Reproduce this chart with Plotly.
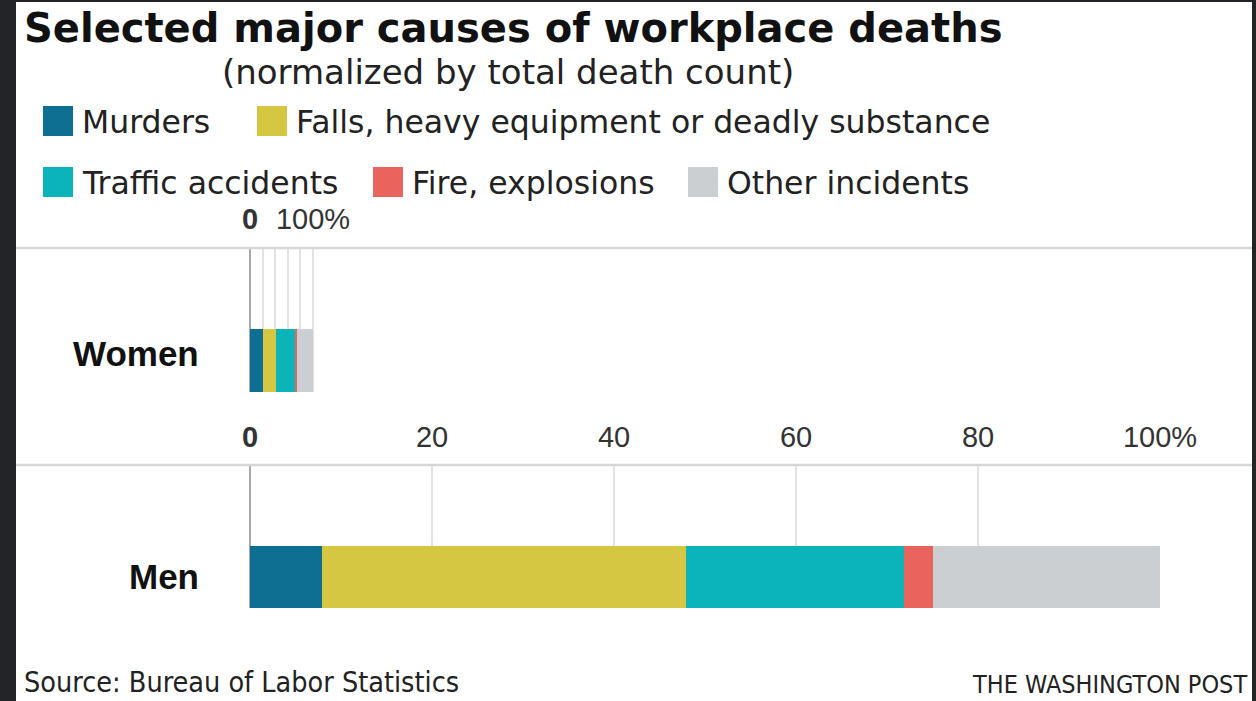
import plotly.graph_objects as go

W, H = 1256, 701

# ---- data -------------------------------------------------------------
causes = [
    "Murders",
    "Falls, heavy equipment or deadly substance",
    "Traffic accidents",
    "Fire, explosions",
    "Other incidents",
]
colors = ["#0f6f92", "#d6c743", "#0bb4b9", "#ea645e", "#cbcfd2"]

men_pct = [7.9, 40.0, 24.0, 3.1, 25.0]       # share of men's deaths, %
women_pct = [20.0, 21.0, 31.5, 1.5, 26.0]    # share of women's deaths, %
women_scale = 6.92                           # women's total as % of men's total

tick_vals = [0, 20, 40, 60, 80, 100]
men_tick_text = ["<b>0</b>", "20", "40", "60", "80", "100%"]
women_tick_text = ["<b>0</b>", "", "", "", "", "100%"]

groups = ["Women", "Men"]


def px(x):
    return x / W


def py(y):
    return 1 - y / H


fig = go.Figure()

for name, color, m, w in zip(causes, colors, men_pct, women_pct):
    fig.add_trace(go.Bar(
        x=[m], y=[0], orientation="h", width=1, name=name,
        marker=dict(color=color, line=dict(width=0)),
        xaxis="x", yaxis="y", showlegend=False, hoverinfo="skip",
    ))
    fig.add_trace(go.Bar(
        x=[w], y=[0], orientation="h", width=1, name=name,
        marker=dict(color=color, line=dict(width=0)),
        xaxis="x2", yaxis="y2", showlegend=False, hoverinfo="skip",
    ))

tick_font = dict(family="Liberation Sans, Arial, sans-serif", size=29, color="#333333")
common_x = dict(
    domain=[px(250), px(1160)], side="top", automargin=False,
    showgrid=True, gridcolor="#e2e2e2", gridwidth=1.5,
    zeroline=True, zerolinecolor="#a8a8a8", zerolinewidth=2,
    showline=False, tickmode="array", tickvals=tick_vals,
    ticks="outside", ticklen=6, tickcolor="rgba(0,0,0,0)",
    tickfont=tick_font, fixedrange=True,
)
common_y = dict(visible=False, fixedrange=True, automargin=False)

fig.update_layout(
    width=W, height=H, autosize=False,
    margin=dict(l=0, r=0, t=0, b=0, pad=0, autoexpand=False),
    paper_bgcolor="white", plot_bgcolor="white",
    barmode="stack", bargap=0,
    xaxis=dict(common_x, range=[0, 100], ticktext=men_tick_text, anchor="y"),
    yaxis=dict(common_y, domain=[py(608), py(466)], range=[-0.5, -0.5 + 142 / 62]),
    xaxis2=dict(common_x, range=[0, 100 * 100 / women_scale],
                ticktext=women_tick_text, anchor="y2"),
    yaxis2=dict(common_y, domain=[py(392), py(248)], range=[-0.5, -0.5 + 144 / 63]),
)

shapes = []
# dark frame around the card
frame = "#222428"
for x0, y0, x1, y1 in [(0, 0, 16, H), (0, 0, W, 2), (1252, 0, W, H)]:
    shapes.append(dict(type="rect", xref="paper", yref="paper",
                       x0=px(x0), x1=px(x1), y0=py(y1), y1=py(y0),
                       fillcolor=frame, line=dict(width=0), layer="above"))
# rules under the axis labels
for y in [248, 465]:
    shapes.append(dict(type="line", xref="paper", yref="paper",
                       x0=px(16), x1=px(1252), y0=py(y), y1=py(y),
                       line=dict(color="#d6d6d6", width=2.5)))

annotations = []


def text(x, y, s, size, family, color="#1a1a1a", xanchor="left", yanchor="middle",
         bold=False):
    annotations.append(dict(
        xref="paper", yref="paper", x=px(x), y=py(y), text=f"<b>{s}</b>" if bold else s,
        showarrow=False, xanchor=xanchor, yanchor=yanchor,
        font=dict(size=size, family=family, color=color),
    ))


text(22, 28, "Selected major causes of workplace deaths", 40,
     "DejaVu Sans, sans-serif", color="#111111", bold=True)
text(508, 72, "(normalized by total death count)", 34,
     "DejaVu Sans, sans-serif", color="#222222", xanchor="center")

# legend: swatch left edges and row centers
legend_pos = [(43, 121), (257, 121), (43, 182), (373, 182), (688, 182)]
for (lx, ly), name, color in zip(legend_pos, causes, colors):
    shapes.append(dict(type="rect", xref="paper", yref="paper",
                       x0=px(lx), x1=px(lx + 30), y0=py(ly + 15), y1=py(ly - 15),
                       fillcolor=color, line=dict(width=0)))
    text(lx + 37, ly + 1, name, 31.5, "DejaVu Sans, sans-serif", color="#222222")

# row labels
for g, y in zip(groups, [353, 576]):
    text(201, y, g, 35, "Liberation Sans, Arial, sans-serif",
         color="#111111", xanchor="right", bold=True)

# footer, kept inside the bottom edge
text(22, H, "Source: Bureau of Labor Statistics", 28.5,
     "DejaVu Sans Condensed, Liberation Sans, sans-serif", color="#222222",
     yanchor="bottom")
text(1249, H, "THE WASHINGTON POST", 25,
     "DejaVu Sans Condensed, Liberation Sans, sans-serif",
     color="#222222", xanchor="right", yanchor="bottom")

fig.update_layout(shapes=shapes, annotations=annotations)
fig.write_html("out.html", config={"displayModeBar": False})
